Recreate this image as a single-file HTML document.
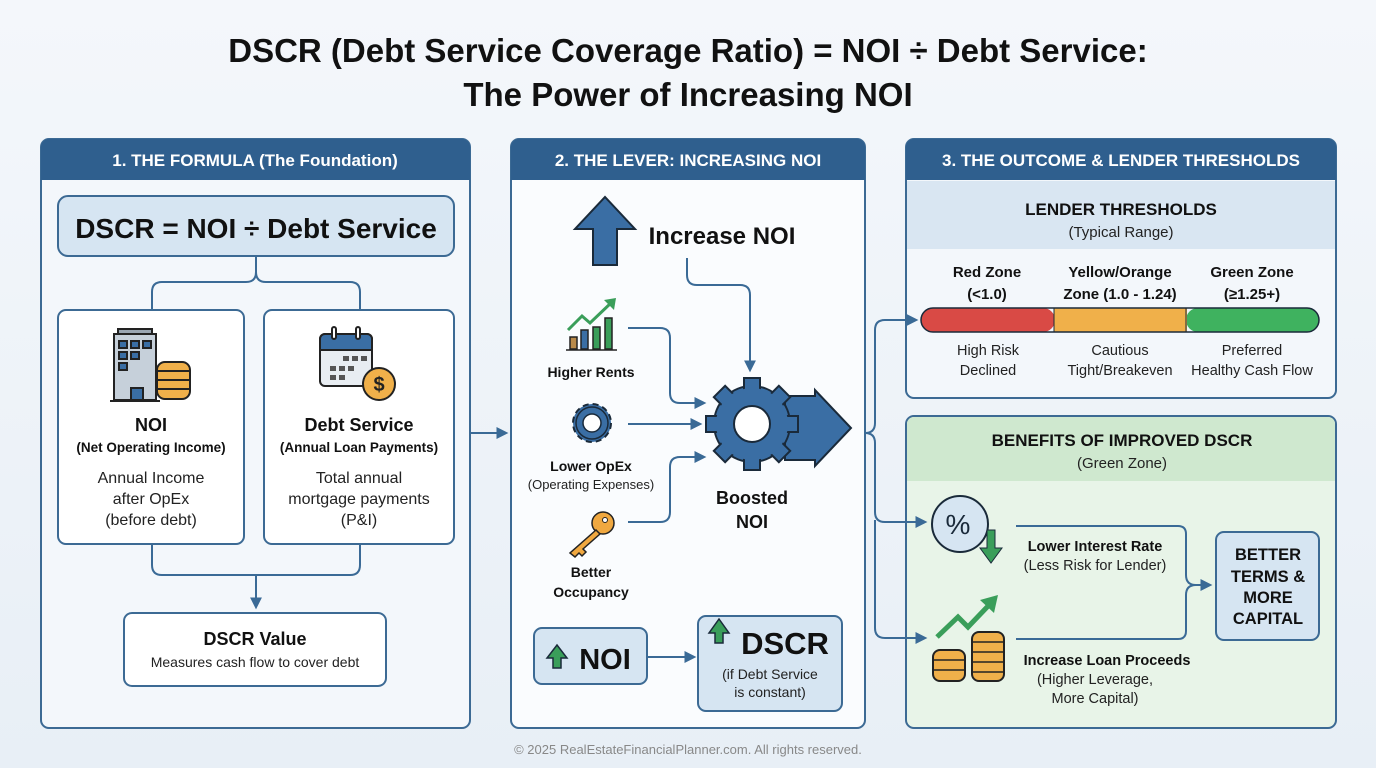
<!DOCTYPE html>
<html><head><meta charset="utf-8"><style>
html,body{margin:0;padding:0;background:#eef3f8;}
svg{display:block;font-family:"Liberation Sans",sans-serif;}
</style></head><body>
<svg width="1376" height="768" viewBox="0 0 1376 768" xmlns="http://www.w3.org/2000/svg">
<defs>
<linearGradient id="bg" x1="0" y1="0" x2="0" y2="1"><stop offset="0" stop-color="#f4f7fb"/><stop offset="1" stop-color="#e8eff6"/></linearGradient>
<marker id="ar" viewBox="0 0 10 10" refX="8" refY="5" markerWidth="6" markerHeight="6" orient="auto"><path d="M0,0 L10,5 L0,10 z" fill="#3a6a96"/></marker>
</defs>
<rect width="1376" height="768" fill="url(#bg)"/>
<text x="688" y="62" text-anchor="middle" font-size="33" font-weight="bold" fill="#111">DSCR (Debt Service Coverage Ratio) = NOI ÷ Debt Service:</text>
<text x="688" y="106" text-anchor="middle" font-size="33" font-weight="bold" fill="#111">The Power of Increasing NOI</text>

<!-- Panel 1 -->
<rect x="41" y="139" width="429" height="589" rx="8" fill="#f3f7fb" stroke="#3c6a94" stroke-width="2"/>
<path d="M41,180 V147 a8,8 0 0 1 8,-8 H462 a8,8 0 0 1 8,8 V180 Z" fill="#2f5f8e"/>
<text x="255" y="166" text-anchor="middle" font-size="17" font-weight="bold" fill="#fff">1. THE FORMULA (The Foundation)</text>
<rect x="58" y="196" width="396" height="60" rx="10" fill="#d6e5f2" stroke="#3c6a94" stroke-width="2"/>
<text x="256" y="238" text-anchor="middle" font-size="28" font-weight="bold" fill="#111">DSCR = NOI ÷ Debt Service</text>
<g fill="none" stroke="#3a6a96" stroke-width="2">
<path d="M256,256 V272 q0,10 -10,10 H162 q-10,0 -10,10 V310"/>
<path d="M256,272 q0,10 10,10 H350 q10,0 10,10 V310"/>
<path d="M152,544 V565 q0,10 10,10 H350 q10,0 10,-10 V544"/>
<path d="M256,575 V607" marker-end="url(#ar)"/>
</g>
<rect x="58" y="310" width="186" height="234" rx="8" fill="#fff" stroke="#3c6a94" stroke-width="2"/>
<rect x="264" y="310" width="190" height="234" rx="8" fill="#fff" stroke="#3c6a94" stroke-width="2"/>
<g stroke="#222" stroke-width="2">
<rect x="118" y="329" width="34" height="5" fill="#9aa6b2"/>
<rect x="114" y="334" width="42" height="66" fill="#c6d0da"/>
<rect x="119" y="341" width="8" height="7" fill="#3a6ea4"/><rect x="131" y="341" width="8" height="7" fill="#3a6ea4"/><rect x="143" y="341" width="8" height="7" fill="#3a6ea4"/>
<rect x="119" y="352" width="8" height="7" fill="#3a6ea4"/><rect x="131" y="352" width="8" height="7" fill="#3a6ea4"/>
<rect x="119" y="363" width="8" height="7" fill="#3a6ea4"/>
<rect x="131" y="388" width="12" height="12" fill="#3a6ea4"/>
<line x1="110" y1="401" x2="160" y2="401"/>
<rect x="157" y="362" width="33" height="37" rx="8" fill="#f0b04a"/>
<line x1="157" y1="371" x2="190" y2="371"/><line x1="157" y1="380" x2="190" y2="380"/><line x1="157" y1="389" x2="190" y2="389"/>
</g>
<g stroke="#222" stroke-width="2">
<rect x="320" y="334" width="52" height="52" rx="5" fill="#e8edf2"/>
<path d="M320,350 V339 a5,5 0 0 1 5,-5 H367 a5,5 0 0 1 5,5 V350 Z" fill="#3a6ea4"/>
<rect x="332" y="327" width="4" height="12" rx="2" fill="#fff"/><rect x="356" y="327" width="4" height="12" rx="2" fill="#fff"/>
</g>
<g fill="#555"><rect x="343" y="356" width="6" height="5"/><rect x="352" y="356" width="6" height="5"/><rect x="361" y="356" width="6" height="5"/>
<rect x="330" y="366" width="6" height="5"/><rect x="339" y="366" width="6" height="5"/><rect x="348" y="366" width="6" height="5"/>
<rect x="330" y="375" width="6" height="5"/><rect x="339" y="375" width="6" height="5"/></g>
<circle cx="379" cy="384" r="16" fill="#f0b04a" stroke="#222" stroke-width="2"/>
<text x="379" y="391" text-anchor="middle" font-size="20" font-weight="bold" fill="#222">$</text>
<text x="151" y="431" text-anchor="middle" font-size="18" font-weight="bold" fill="#111">NOI</text>
<text x="151" y="452" text-anchor="middle" font-size="13.5" font-weight="bold" fill="#111">(Net Operating Income)</text>
<text x="151" y="483" text-anchor="middle" font-size="16" fill="#222">Annual Income</text>
<text x="151" y="504" text-anchor="middle" font-size="16" fill="#222">after OpEx</text>
<text x="151" y="525" text-anchor="middle" font-size="16" fill="#222">(before debt)</text>
<text x="359" y="431" text-anchor="middle" font-size="18" font-weight="bold" fill="#111">Debt Service</text>
<text x="359" y="452" text-anchor="middle" font-size="13.5" font-weight="bold" fill="#111">(Annual Loan Payments)</text>
<text x="359" y="483" text-anchor="middle" font-size="16" fill="#222">Total annual</text>
<text x="359" y="504" text-anchor="middle" font-size="16" fill="#222">mortgage payments</text>
<text x="359" y="525" text-anchor="middle" font-size="16" fill="#222">(P&amp;I)</text>
<rect x="124" y="613" width="262" height="73" rx="8" fill="#fff" stroke="#3c6a94" stroke-width="2"/>
<text x="255" y="645" text-anchor="middle" font-size="18" font-weight="bold" fill="#111">DSCR Value</text>
<text x="255" y="667" text-anchor="middle" font-size="14" fill="#222">Measures cash flow to cover debt</text>

<path d="M470,433 H506" stroke="#3a6a96" stroke-width="2" fill="none" marker-end="url(#ar)"/>

<!-- Panel 2 -->
<rect x="511" y="139" width="354" height="589" rx="8" fill="#fafcfe" stroke="#3c6a94" stroke-width="2"/>
<path d="M511,180 V147 a8,8 0 0 1 8,-8 H857 a8,8 0 0 1 8,8 V180 Z" fill="#2f5f8e"/>
<text x="688" y="166" text-anchor="middle" font-size="17" font-weight="bold" fill="#fff">2. THE LEVER: INCREASING NOI</text>
<path d="M593,265 V229 H575 L605,197 L635,229 H617 V265 Z" fill="#3a6ea4" stroke="#1a2a3a" stroke-width="2"/>
<text x="722" y="244" text-anchor="middle" font-size="24" font-weight="bold" fill="#111">Increase NOI</text>
<g fill="none" stroke="#3a6a96" stroke-width="2">
<path d="M687,258 V275 q0,10 10,10 H740 q10,0 10,10 V370" marker-end="url(#ar)"/>
<path d="M628,328 H660 q10,0 10,10 V393 q0,10 10,10 H704" marker-end="url(#ar)"/>
<path d="M628,424 H700" marker-end="url(#ar)"/>
<path d="M628,522 H660 q10,0 10,-10 V467 q0,-10 10,-10 H704" marker-end="url(#ar)"/>
</g>
<rect x="570" y="337" width="7" height="12" fill="#b98a4a" stroke="#222" stroke-width="1.5"/>
<rect x="581" y="330" width="7" height="19" fill="#3a6ea4" stroke="#222" stroke-width="1.5"/>
<rect x="593" y="327" width="7" height="22" fill="#3a9e5a" stroke="#222" stroke-width="1.5"/>
<rect x="605" y="318" width="7" height="31" fill="#3a9e5a" stroke="#222" stroke-width="1.5"/>
<line x1="566" y1="350" x2="617" y2="350" stroke="#222" stroke-width="1.5"/>
<polyline points="568,330 582,316 590,323 612,302" fill="none" stroke="#3a9e5a" stroke-width="3"/>
<path d="M604,300 L616,298 L614,310 Z" fill="#3a9e5a"/>
<text x="591" y="377" text-anchor="middle" font-size="14" font-weight="bold" fill="#111">Higher Rents</text>
<g transform="translate(592,423)">
<circle r="19" fill="#3a6ea4" stroke="#1a2a3a" stroke-width="2" stroke-dasharray="6 4"/>
<circle r="16" fill="#3a6ea4" stroke="#1a2a3a" stroke-width="1.5"/>
<circle r="9" fill="#fff" stroke="#1a2a3a" stroke-width="1.5"/>
</g>
<text x="591" y="471" text-anchor="middle" font-size="14" font-weight="bold" fill="#111">Lower OpEx</text>
<text x="591" y="489" text-anchor="middle" font-size="13" fill="#222">(Operating Expenses)</text>
<circle cx="603" cy="523" r="11" fill="#f0a840" stroke="#222" stroke-width="1.5"/>
<circle cx="605" cy="520" r="2.5" fill="#fff" stroke="#222"/>
<path d="M596,530 L570,553 L575,557 L579,553 L582,556 L586,552 L583,549 L600,534 Z" fill="#f0a840" stroke="#222" stroke-width="1.5"/>
<text x="591" y="577" text-anchor="middle" font-size="14" font-weight="bold" fill="#111">Better</text>
<text x="591" y="597" text-anchor="middle" font-size="14" font-weight="bold" fill="#111">Occupancy</text>
<path d="M785,396 H815 V390 L851,428 L815,466 V460 H785 Z" fill="#3a6ea4" stroke="#1a2a3a" stroke-width="2"/>
<g transform="translate(752,424)">
<g fill="#3a6ea4" stroke="#1a2a3a" stroke-width="2">
<circle r="38"/>
<rect x="-8" y="-46" width="16" height="14"/>
<rect x="-8" y="-46" width="16" height="14" transform="rotate(45)"/>
<rect x="-8" y="-46" width="16" height="14" transform="rotate(90)"/>
<rect x="-8" y="-46" width="16" height="14" transform="rotate(135)"/>
<rect x="-8" y="-46" width="16" height="14" transform="rotate(180)"/>
<rect x="-8" y="-46" width="16" height="14" transform="rotate(225)"/>
<rect x="-8" y="-46" width="16" height="14" transform="rotate(270)"/>
<rect x="-8" y="-46" width="16" height="14" transform="rotate(315)"/>
</g>
<circle r="36" fill="#3a6ea4"/>
<circle r="18" fill="#fff" stroke="#1a2a3a" stroke-width="2"/>
</g>
<text x="752" y="504" text-anchor="middle" font-size="18" font-weight="bold" fill="#111">Boosted</text>
<text x="752" y="528" text-anchor="middle" font-size="18" font-weight="bold" fill="#111">NOI</text>
<rect x="534" y="628" width="113" height="56" rx="8" fill="#d6e5f2" stroke="#3c6a94" stroke-width="2"/>
<path d="M553,668 V658 H547 L557,645 L567,658 H561 V668 Z" fill="#3a9e5a" stroke="#1a2a3a" stroke-width="1.5"/>
<text x="605" y="669" text-anchor="middle" font-size="29" font-weight="bold" fill="#111">NOI</text>
<path d="M648,657 H694" stroke="#3a6a96" stroke-width="2" fill="none" marker-end="url(#ar)"/>
<rect x="698" y="616" width="144" height="95" rx="8" fill="#d6e5f2" stroke="#3c6a94" stroke-width="2"/>
<path d="M715,643 V633 H709 L719,619 L729,633 H723 V643 Z" fill="#3a9e5a" stroke="#1a2a3a" stroke-width="1.5"/>
<text x="785" y="654" text-anchor="middle" font-size="31" font-weight="bold" fill="#111">DSCR</text>
<text x="770" y="679" text-anchor="middle" font-size="14" fill="#222">(if Debt Service</text>
<text x="770" y="697" text-anchor="middle" font-size="14" fill="#222">is constant)</text>

<!-- Panel 3 -->
<rect x="906" y="139" width="430" height="259" rx="8" fill="#f3f7fb" stroke="#3c6a94" stroke-width="2"/>
<path d="M906,180 V147 a8,8 0 0 1 8,-8 H1328 a8,8 0 0 1 8,8 V180 Z" fill="#2f5f8e"/>
<text x="1121" y="166" text-anchor="middle" font-size="17" font-weight="bold" fill="#fff">3. THE OUTCOME &amp; LENDER THRESHOLDS</text>
<rect x="907" y="181" width="428" height="68" fill="#d9e6f2"/>
<text x="1121" y="215" text-anchor="middle" font-size="17" font-weight="bold" fill="#111">LENDER THRESHOLDS</text>
<text x="1121" y="237" text-anchor="middle" font-size="15" fill="#222">(Typical Range)</text>
<text x="987" y="277" text-anchor="middle" font-size="15" font-weight="bold" fill="#111">Red Zone</text>
<text x="987" y="299" text-anchor="middle" font-size="15" font-weight="bold" fill="#111">(&lt;1.0)</text>
<text x="1120" y="277" text-anchor="middle" font-size="15" font-weight="bold" fill="#111">Yellow/Orange</text>
<text x="1120" y="299" text-anchor="middle" font-size="15" font-weight="bold" fill="#111">Zone (1.0 - 1.24)</text>
<text x="1252" y="277" text-anchor="middle" font-size="15" font-weight="bold" fill="#111">Green Zone</text>
<text x="1252" y="299" text-anchor="middle" font-size="15" font-weight="bold" fill="#111">(≥1.25+)</text>
<rect x="921" y="308" width="134" height="24" rx="12" fill="#d94a45"/>
<rect x="1186" y="308" width="133" height="24" rx="12" fill="#3fb25f"/>
<rect x="1054" y="308" width="133" height="24" fill="#f0b04a"/>
<rect x="921" y="308" width="398" height="24" rx="12" fill="none" stroke="#1a2a3a" stroke-width="1.5"/>
<line x1="1054" y1="308" x2="1054" y2="332" stroke="#1a2a3a" stroke-width="1"/><line x1="1186" y1="308" x2="1186" y2="332" stroke="#1a2a3a" stroke-width="1"/>
<text x="988" y="355" text-anchor="middle" font-size="14.5" fill="#222">High Risk</text>
<text x="988" y="375" text-anchor="middle" font-size="14.5" fill="#222">Declined</text>
<text x="1120" y="355" text-anchor="middle" font-size="14.5" fill="#222">Cautious</text>
<text x="1120" y="375" text-anchor="middle" font-size="14.5" fill="#222">Tight/Breakeven</text>
<text x="1252" y="355" text-anchor="middle" font-size="14.5" fill="#222">Preferred</text>
<text x="1252" y="375" text-anchor="middle" font-size="14.5" fill="#222">Healthy Cash Flow</text>

<rect x="906" y="416" width="430" height="312" rx="8" fill="#e8f4e8" stroke="#3c6a94" stroke-width="2"/>
<path d="M907,481 V424 a7,7 0 0 1 7,-7 H1328 a7,7 0 0 1 7,7 V481 Z" fill="#cfe8cf"/>
<text x="1122" y="446" text-anchor="middle" font-size="17" font-weight="bold" fill="#111">BENEFITS OF IMPROVED DSCR</text>
<text x="1122" y="468" text-anchor="middle" font-size="15" fill="#222">(Green Zone)</text>
<circle cx="960" cy="524" r="28" fill="#d6e5f2" stroke="#1a2a3a" stroke-width="2"/>
<text x="958" y="534" text-anchor="middle" font-size="28" fill="#1a2a3a">%</text>
<path d="M987,530 V548 H980 L991,563 L1002,548 H995 V530 Z" fill="#3a9e5a" stroke="#1a2a3a" stroke-width="1"/>
<text x="1095" y="551" text-anchor="middle" font-size="14.5" font-weight="bold" fill="#111">Lower Interest Rate</text>
<text x="1095" y="570" text-anchor="middle" font-size="14.5" fill="#222">(Less Risk for Lender)</text>
<polyline points="937,637 958,617 968,627 990,604" fill="none" stroke="#3a9e5a" stroke-width="5"/>
<path d="M980,600 L998,595 L994,613 Z" fill="#3a9e5a"/>
<g fill="#f0b04a" stroke="#222" stroke-width="2">
<rect x="933" y="650" width="32" height="31" rx="7"/>
<rect x="972" y="632" width="32" height="49" rx="7"/>
</g>
<g stroke="#222" stroke-width="1.5">
<line x1="933" y1="660" x2="965" y2="660"/><line x1="933" y1="670" x2="965" y2="670"/>
<line x1="972" y1="642" x2="1004" y2="642"/><line x1="972" y1="652" x2="1004" y2="652"/><line x1="972" y1="662" x2="1004" y2="662"/><line x1="972" y1="672" x2="1004" y2="672"/>
</g>
<text x="1107" y="665" text-anchor="middle" font-size="14.5" font-weight="bold" fill="#111">Increase Loan Proceeds</text>
<text x="1095" y="684" text-anchor="middle" font-size="14.5" fill="#222">(Higher Leverage,</text>
<text x="1095" y="703" text-anchor="middle" font-size="14.5" fill="#222">More Capital)</text>
<g fill="none" stroke="#3a6a96" stroke-width="2">
<path d="M1016,526 H1178 q8,0 8,8 V575 q0,10 10,10 H1210" marker-end="url(#ar)"/>
<path d="M1016,639 H1178 q8,0 8,-8 V595 q0,-10 10,-10"/>
</g>
<rect x="1216" y="532" width="103" height="108" rx="8" fill="#d6e5f2" stroke="#3c6a94" stroke-width="2"/>
<text x="1268" y="560" text-anchor="middle" font-size="16.5" font-weight="bold" fill="#111">BETTER</text>
<text x="1268" y="582" text-anchor="middle" font-size="16.5" font-weight="bold" fill="#111">TERMS &amp;</text>
<text x="1268" y="603" text-anchor="middle" font-size="16.5" font-weight="bold" fill="#111">MORE</text>
<text x="1268" y="624" text-anchor="middle" font-size="16.5" font-weight="bold" fill="#111">CAPITAL</text>

<!-- connectors into panel 3 (drawn on top) -->
<g fill="none" stroke="#3a6a96" stroke-width="2">
<path d="M865,433 q10,0 10,-10 V330 q0,-10 10,-10 H916" marker-end="url(#ar)"/>
<path d="M865,433 q10,0 10,10 V512 q0,10 10,10 H925" marker-end="url(#ar)"/>
<path d="M875,520 V628 q0,10 10,10 H925" marker-end="url(#ar)"/>
</g>

<text x="688" y="754" text-anchor="middle" font-size="13" fill="#888">© 2025 RealEstateFinancialPlanner.com. All rights reserved.</text>
</svg>
</body></html>
